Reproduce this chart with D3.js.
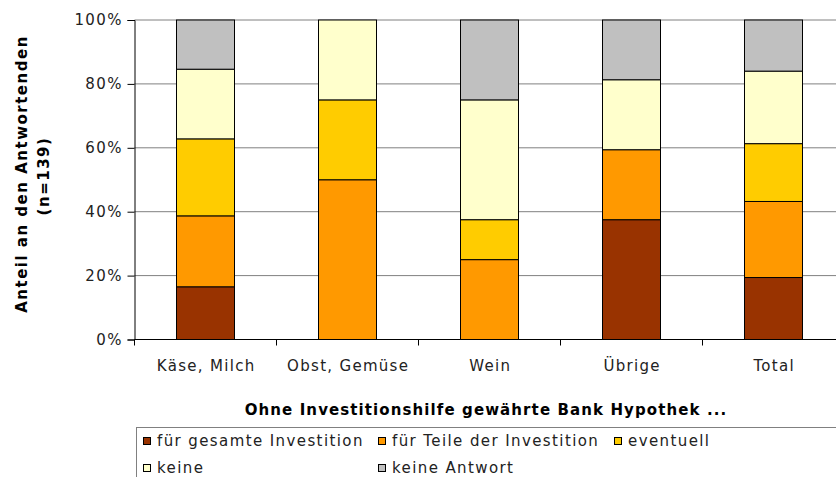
<!DOCTYPE html>
<html>
<head>
<meta charset="utf-8">
<script src="https://cdn.jsdelivr.net/npm/d3@7"></script>
<style>
  body { margin: 0; background: #fff; }
  text { font-family: "DejaVu Sans", Verdana, sans-serif; }
</style>
</head>
<body>
<div id="chart"></div>
<script>
// categories and series (percent of respondents)
const categories = ["Käse, Milch", "Obst, Gemüse", "Wein", "Übrige", "Total"];
const seriesNames = ["für gesamte Investition", "für Teile der Investition", "eventuell", "keine", "keine Antwort"];
const gesamte = [16.5, 0, 0, 37.5, 19.4];
const teile = [22.2, 50, 25, 21.9, 23.8];
const eventuell = [24.1, 25, 12.5, 0, 18.1];
const keine = [21.8, 25, 37.5, 21.9, 22.7];
const keineAntwort = [15.4, 0, 25, 18.7, 16.0];
const yTicks = [0, 20, 40, 60, 80, 100];
const colors = ["#993300", "#FF9900", "#FFCC00", "#FFFFCC", "#C0C0C0"];

const width = 836, height = 477;
const svg = d3.select("#chart").append("svg")
  .attr("width", width).attr("height", height);

const plotLeft = 134.5, plotRight = 844.5, plotTop = 20, plotBottom = 339.5;

const x = d3.scaleBand().domain(categories).range([plotLeft, plotRight]);
const y = d3.scaleLinear().domain([0, 100]).range([plotBottom, plotTop]);

const rows = categories.map((c, i) => ({
  cat: c,
  [seriesNames[0]]: gesamte[i],
  [seriesNames[1]]: teile[i],
  [seriesNames[2]]: eventuell[i],
  [seriesNames[3]]: keine[i],
  [seriesNames[4]]: keineAntwort[i]
}));
const stacked = d3.stack().keys(seriesNames)(rows);

// gridlines
svg.append("g")
  .selectAll("line")
  .data(yTicks.slice(1))
  .join("line")
  .attr("x1", plotLeft).attr("x2", width)
  .attr("y1", d => y(d)).attr("y2", d => y(d))
  .attr("stroke", "#808080").attr("stroke-width", 1);

// bars
const barW = 58;
svg.append("g")
  .selectAll("g")
  .data(stacked)
  .join("g")
  .attr("fill", (d, i) => colors[i])
  .selectAll("rect")
  .data(d => d.filter(v => v[1] - v[0] > 0))
  .join("rect")
  .attr("x", d => x(d.data.cat) + x.bandwidth() / 2 - barW / 2)
  .attr("y", d => y(d[1]))
  .attr("width", barW)
  .attr("height", d => y(d[0]) - y(d[1]))
  .attr("stroke", "#000")
  .attr("stroke-width", 1);

// y axis
const yAxis = svg.append("g")
  .attr("transform", `translate(${plotLeft},0)`)
  .call(d3.axisLeft(y).tickValues(yTicks).tickFormat(d => d + "%").tickSize(7).tickPadding(6));
yAxis.select(".domain").attr("stroke", "#000");
yAxis.selectAll("text").attr("font-size", 15).attr("fill", "#222")
  .attr("font-family", "DejaVu Sans").attr("letter-spacing", 1.4)
  .attr("dx", 1.4);

// x axis
const xAxis = svg.append("g")
  .attr("transform", `translate(0,${plotBottom})`);
xAxis.append("line")
  .attr("x1", plotLeft).attr("x2", width)
  .attr("stroke", "#000");
xAxis.selectAll(".tk")
  .data(categories)
  .join("line")
  .attr("class", "tk")
  .attr("x1", d => x(d)).attr("x2", d => x(d))
  .attr("y1", 0).attr("y2", 6)
  .attr("stroke", "#000");
xAxis.selectAll(".lbl")
  .data(categories)
  .join("text")
  .attr("class", "lbl")
  .attr("x", d => x(d) + x.bandwidth() / 2 + 0.7)
  .attr("y", 31)
  .attr("text-anchor", "middle")
  .attr("font-size", 15)
  .attr("letter-spacing", 1.3)
  .attr("fill", "#222")
  .text(d => d);

// axis titles
svg.append("text")
  .attr("transform", "translate(22,174) rotate(-90)")
  .attr("text-anchor", "middle")
  .attr("dy", "0.35em")
  .attr("font-size", 15).attr("font-weight", "bold")
  .attr("letter-spacing", 1.5)
  .text("Anteil an den Antwortenden");
svg.append("text")
  .attr("transform", "translate(44,176) rotate(-90)")
  .attr("text-anchor", "middle")
  .attr("dy", "0.35em")
  .attr("font-size", 15).attr("font-weight", "bold")
  .attr("letter-spacing", 1.5)
  .text("(n=139)");

svg.append("text")
  .attr("x", 486).attr("y", 410)
  .attr("dy", "0.35em")
  .attr("text-anchor", "middle")
  .attr("font-size", 15).attr("font-weight", "bold")
  .attr("letter-spacing", 1.1)
  .text("Ohne Investitionshilfe gewährte Bank Hypothek ...");

// legend
const legend = svg.append("g");
legend.append("rect")
  .attr("x", 136.5).attr("y", 427.5)
  .attr("width", 720).attr("height", 80)
  .attr("fill", "#fff").attr("stroke", "#808080");
const legendPos = [[143, 441], [378, 441], [614, 441], [143, 468], [378, 468]];
const li = legend.selectAll("g.item")
  .data(seriesNames)
  .join("g")
  .attr("class", "item")
  .attr("transform", (d, i) => `translate(${legendPos[i][0]},${legendPos[i][1]})`);
li.append("rect")
  .attr("x", 0.5).attr("y", -3.5)
  .attr("width", 7).attr("height", 7)
  .attr("fill", (d, i) => colors[i])
  .attr("stroke", "#000");
li.append("text")
  .attr("x", 14).attr("dy", "0.35em")
  .attr("font-size", 15)
  .attr("letter-spacing", 1.4)
  .attr("fill", "#222")
  .text(d => d);
</script>
</body>
</html>
